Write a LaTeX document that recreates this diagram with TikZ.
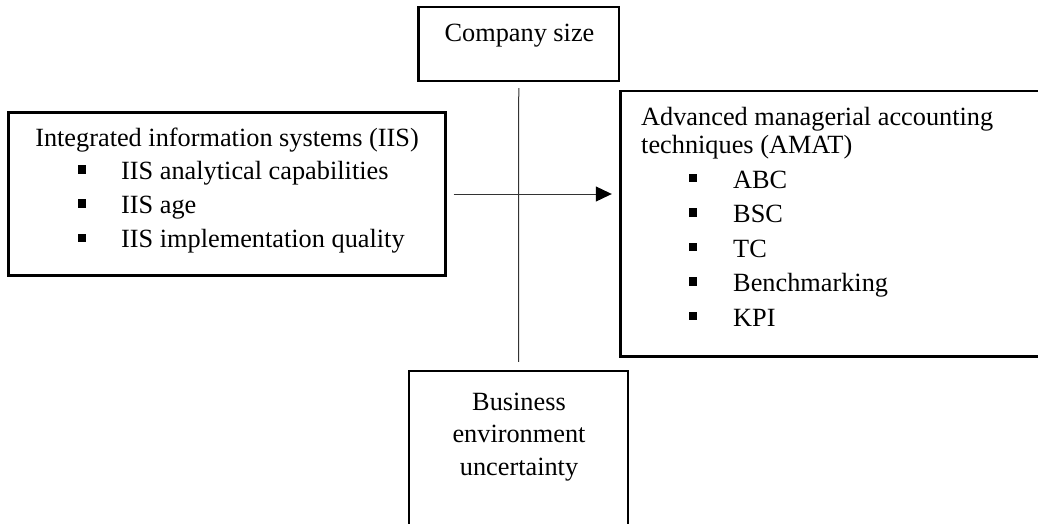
\documentclass[tikz,border=0pt]{standalone}
\usepackage{fontspec}
\setmainfont{Liberation Serif}
\usetikzlibrary{arrows.meta}

\tikzset{
  box/.style={draw,line width=2.4pt,inner sep=0pt},
  txt/.style={anchor=base west,inner sep=0pt},
  ctxt/.style={anchor=base,inner sep=0pt},
  bul/.style={fill,minimum size=8.5pt,inner sep=0pt},
  link/.style={draw=black!80,line width=1pt}
}

\begin{document}
\begin{tikzpicture}[x=1pt,y=-1pt,font=\fontsize{26.3}{32}\selectfont]
        \useasboundingbox (0,0) rectangle (1038,523);
        % boxes
        \node[box,minimum width=200.5pt,minimum height=74pt] (size) at (518.75,44) {};
        \node[box,minimum width=437pt,minimum height=163pt] (iis) at (227,194) {};
        \node[box,minimum width=424.5pt,minimum height=265.5pt] (amat) at (832.75,223.75) {};
        \node[box,minimum width=219pt,minimum height=159pt] (bus) at (518.5,450.5) {};
        % texts
        \node[ctxt] (sizet) at (519.5,41.5) {Company size};
        \node[ctxt] (iish) at (227,146) {Integrated information systems (IIS)};
        \node[bul] (b1) at (82,169.5) {};
        \node[txt] (i1) at (121,179) {IIS analytical capabilities};
        \node[bul] (b2) at (82,203.5) {};
        \node[txt] (i2) at (121,213) {IIS age};
        \node[bul] (b3) at (82,238) {};
        \node[txt] (i3) at (121,247.5) {IIS implementation quality};
        \node[txt] (amath1) at (641,125) {Advanced managerial accounting};
        \node[txt] (amath2) at (641,153.3) {techniques (AMAT)};
        \node[bul] (a1) at (693,178) {};
        \node[txt] (t1) at (733,188) {ABC};
        \node[bul] (a2) at (693,212.5) {};
        \node[txt] (t2) at (733,222.5) {BSC};
        \node[bul] (a3) at (693,247) {};
        \node[txt] (t3) at (733,257) {TC};
        \node[bul] (a4) at (693,281.5) {};
        \node[txt] (t4) at (733,291.5) {Benchmarking};
        \node[bul] (a5) at (693,316) {};
        \node[txt] (t5) at (733,326) {KPI};
        \node[ctxt] (bus1) at (519,410) {Business};
        \node[ctxt] (bus2) at (519,442.5) {environment};
        \node[ctxt] (bus3) at (519,475) {uncertainty};
        % connectors
        \draw[link] ([yshift=-6pt]size.south) -- ([yshift=8pt]bus.north);
        \draw[link,-{Triangle[length=16pt,width=15pt,color=black]}] ([xshift=7pt]iis.east) -- ([xshift=-7.5pt]amat.west |- iis.east);
\end{tikzpicture}
\end{document}
